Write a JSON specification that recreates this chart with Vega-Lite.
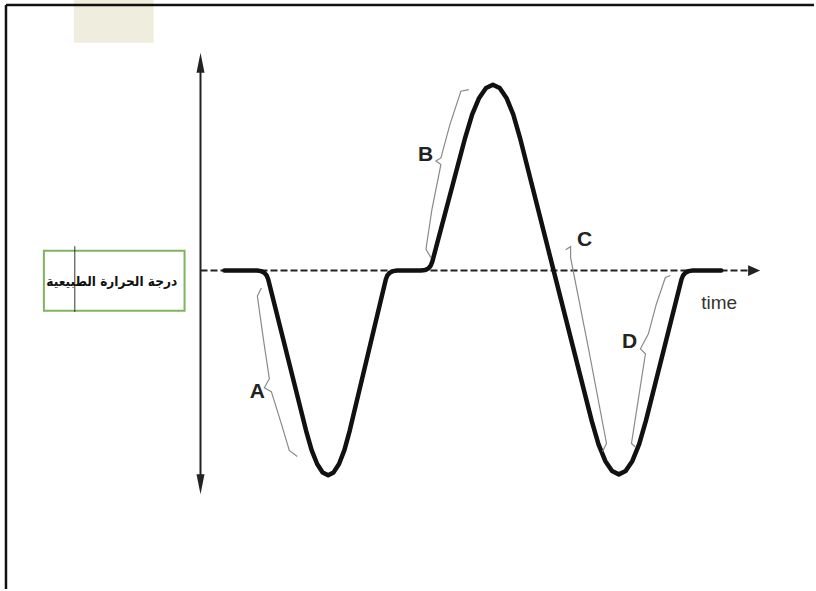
{
  "$schema": "https://vega.github.io/schema/vega-lite/v6.json",
  "width": 816,
  "height": 591,
  "autosize": {"type": "fit", "contains": "padding"},
  "padding": 0,
  "background": "white",
  "config": {"view": {"stroke": null}},
  "datasets": {
    "patch": [{"t0": -12.7, "t1": -4.7, "v0": 27.15, "v1": 22.85}],
    "frame": [
      {"t": -19.5, "t2": 61.5, "v": 26.65, "v2": 26.65},
      {"t": -19.5, "t2": -19.5, "v": 26.65, "v2": -31.95}
    ],
    "box": [{"t0": -15.7, "t1": -1.6, "v0": 1.98, "v1": -4.02}],
    "boxtick": [{"t": -12.6, "v": 2.45, "v2": -4.15}],
    "boxlabel": [{"t": -8.9, "v": -1.1, "label": "درجة الحرارة الطبيعية"}],
    "yaxis": [{"t": 0, "v": 20.85, "v2": -21.45}],
    "baseline": [{"t": 0, "t2": 55.1, "v": 0}],
    "arrowUp": [{"t": 0, "v": 20.85}],
    "arrowDown": [{"t": 0, "v": -21.45}],
    "arrowRight": [{"t": 55.5, "v": 0}],
    "curve": [
      {"i": 1, "t": 2.4, "v": 0}, {"i": 2, "t": 5.665, "v": 0}, {"i": 3, "t": 6.072, "v": -0.055},
      {"i": 4, "t": 6.395, "v": -0.218}, {"i": 5, "t": 6.631, "v": -0.491}, {"i": 6, "t": 6.783, "v": -0.873},
      {"i": 7, "t": 10.58, "v": -16.05}, {"i": 8, "t": 11.138, "v": -18.01}, {"i": 9, "t": 11.694, "v": -19.41},
      {"i": 10, "t": 12.245, "v": -20.25}, {"i": 11, "t": 12.795, "v": -20.53}, {"i": 12, "t": 13.34, "v": -20.25},
      {"i": 13, "t": 13.884, "v": -19.41}, {"i": 14, "t": 14.423, "v": -18.01}, {"i": 15, "t": 14.96, "v": -16.05},
      {"i": 16, "t": 18.581, "v": -0.875}, {"i": 17, "t": 18.729, "v": -0.492}, {"i": 18, "t": 18.963, "v": -0.219},
      {"i": 19, "t": 19.284, "v": -0.055}, {"i": 20, "t": 19.69, "v": 0}, {"i": 21, "t": 22.1, "v": 0},
      {"i": 22, "t": 22.509, "v": 0.054}, {"i": 23, "t": 22.833, "v": 0.217}, {"i": 24, "t": 23.074, "v": 0.489},
      {"i": 25, "t": 23.23, "v": 0.87}, {"i": 26, "t": 26.536, "v": 13.35}, {"i": 27, "t": 27.235, "v": 15.67},
      {"i": 28, "t": 27.931, "v": 17.325}, {"i": 29, "t": 28.621, "v": 18.319}, {"i": 30, "t": 29.309, "v": 18.65},
      {"i": 31, "t": 29.992, "v": 18.319}, {"i": 32, "t": 30.673, "v": 17.325}, {"i": 33, "t": 31.349, "v": 15.67},
      {"i": 34, "t": 32.02, "v": 13.35}, {"i": 35, "t": 39.21, "v": -15.06}, {"i": 36, "t": 39.892, "v": -17.419},
      {"i": 37, "t": 40.574, "v": -19.102}, {"i": 38, "t": 41.255, "v": -20.113}, {"i": 39, "t": 41.936, "v": -20.45},
      {"i": 40, "t": 42.616, "v": -20.113}, {"i": 41, "t": 43.295, "v": -19.102}, {"i": 42, "t": 43.974, "v": -17.419},
      {"i": 43, "t": 44.652, "v": -15.06}, {"i": 44, "t": 48.22, "v": -0.873}, {"i": 45, "t": 48.373, "v": -0.491},
      {"i": 46, "t": 48.61, "v": -0.218}, {"i": 47, "t": 48.933, "v": -0.055}, {"i": 48, "t": 49.34, "v": 0},
      {"i": 49, "t": 52.2, "v": 0}
    ],
    "braces": [
      {"brace": "A", "i": 1, "t": 6.1, "v": -1.75}, {"brace": "A", "i": 2, "t": 5.7, "v": -2.55},
      {"brace": "A", "i": 3, "t": 6.3, "v": -6.85}, {"brace": "A", "i": 4, "t": 6.9, "v": -10.85},
      {"brace": "A", "i": 5, "t": 6.4, "v": -11.75}, {"brace": "A", "i": 6, "t": 7.1, "v": -12.15},
      {"brace": "A", "i": 7, "t": 8.1, "v": -15.35}, {"brace": "A", "i": 8, "t": 8.9, "v": -18.05},
      {"brace": "A", "i": 9, "t": 9.7, "v": -18.65},
      {"brace": "B", "i": 1, "t": 26.9, "v": 18.15}, {"brace": "B", "i": 2, "t": 26.1, "v": 18.0},
      {"brace": "B", "i": 3, "t": 25.0, "v": 14.65}, {"brace": "B", "i": 4, "t": 24.1, "v": 11.3},
      {"brace": "B", "i": 5, "t": 23.6, "v": 11.0}, {"brace": "B", "i": 6, "t": 24.1, "v": 10.65},
      {"brace": "B", "i": 7, "t": 23.2, "v": 6.15}, {"brace": "B", "i": 8, "t": 22.6, "v": 2.15},
      {"brace": "B", "i": 9, "t": 23.1, "v": 1.3},
      {"brace": "C", "i": 1, "t": 36.6, "v": 2.1}, {"brace": "C", "i": 2, "t": 37.1, "v": 2.4},
      {"brace": "C", "i": 3, "t": 37.1, "v": 1.3}, {"brace": "C", "i": 4, "t": 38.9, "v": -7.85},
      {"brace": "C", "i": 5, "t": 40.7, "v": -17.35}, {"brace": "C", "i": 6, "t": 40.3, "v": -18.15},
      {"brace": "D", "i": 1, "t": 47.1, "v": -0.5}, {"brace": "D", "i": 2, "t": 46.6, "v": -0.7},
      {"brace": "D", "i": 3, "t": 45.7, "v": -3.35}, {"brace": "D", "i": 4, "t": 44.9, "v": -6.35},
      {"brace": "D", "i": 5, "t": 44.1, "v": -7.85}, {"brace": "D", "i": 6, "t": 44.6, "v": -8.35},
      {"brace": "D", "i": 7, "t": 43.9, "v": -12.85}, {"brace": "D", "i": 8, "t": 43.2, "v": -17.35},
      {"brace": "D", "i": 9, "t": 43.6, "v": -17.7}
    ],
    "letters": [
      {"t": 5.7, "v": -12.15, "label": "A"},
      {"t": 22.55, "v": 11.55, "label": "B"},
      {"t": 38.5, "v": 3.05, "label": "C"},
      {"t": 43.0, "v": -7.15, "label": "D"}
    ],
    "timelabel": [{"t": 52.0, "v": -3.25, "label": "time"}]
  },
  "encoding": {
    "x": {"field": "t", "type": "quantitative", "axis": null, "scale": {"domain": [-20.1, 61.5], "nice": false, "zero": false}},
    "y": {"field": "v", "type": "quantitative", "axis": null, "scale": {"domain": [-31.95, 27.15], "nice": false, "zero": false}}
  },
  "layer": [
    {
      "data": {"name": "patch"},
      "mark": {"type": "rect", "fill": "#eeedde"},
      "encoding": {
        "x": {"field": "t0", "type": "quantitative"},
        "x2": {"field": "t1"},
        "y": {"field": "v0", "type": "quantitative"},
        "y2": {"field": "v1"}
      }
    },
    {
      "data": {"name": "frame"},
      "mark": {"type": "rule", "stroke": "#111111", "strokeWidth": 2.5},
      "encoding": {
        "x2": {"field": "t2"},
        "y2": {"field": "v2"}
      }
    },
    {
      "data": {"name": "box"},
      "mark": {"type": "rect", "fillOpacity": 0, "stroke": "#7fb45f", "strokeWidth": 2},
      "encoding": {
        "x": {"field": "t0", "type": "quantitative"},
        "x2": {"field": "t1"},
        "y": {"field": "v0", "type": "quantitative"},
        "y2": {"field": "v1"}
      }
    },
    {
      "data": {"name": "boxtick"},
      "mark": {"type": "rule", "stroke": "#333333", "strokeWidth": 1},
      "encoding": {"y2": {"field": "v2"}}
    },
    {
      "data": {"name": "boxlabel"},
      "mark": {"type": "text", "font": "DejaVu Sans Condensed, DejaVu Sans", "fontSize": 13.5, "fontWeight": "bold", "color": "#111111", "align": "center", "baseline": "middle"},
      "encoding": {"text": {"field": "label"}}
    },
    {
      "data": {"name": "yaxis"},
      "mark": {"type": "rule", "stroke": "#222222", "strokeWidth": 2},
      "encoding": {"y2": {"field": "v2"}}
    },
    {
      "data": {"name": "baseline"},
      "mark": {"type": "rule", "stroke": "#222222", "strokeWidth": 2, "strokeDash": [7, 3]},
      "encoding": {"x2": {"field": "t2"}}
    },
    {
      "data": {"name": "arrowUp"},
      "mark": {"type": "point", "shape": "M0,-1L0.4,1L-0.4,1Z", "size": 400, "filled": true, "color": "#222222", "opacity": 1}
    },
    {
      "data": {"name": "arrowDown"},
      "mark": {"type": "point", "shape": "M0,1L0.4,-1L-0.4,-1Z", "size": 400, "filled": true, "color": "#222222", "opacity": 1}
    },
    {
      "data": {"name": "arrowRight"},
      "mark": {"type": "point", "shape": "M1,0L-1,0.9L-1,-0.9Z", "size": 144, "filled": true, "color": "#222222", "opacity": 1}
    },
    {
      "data": {"name": "curve"},
      "mark": {"type": "line", "stroke": "#111111", "strokeWidth": 4.5, "interpolate": "linear", "strokeCap": "round", "strokeJoin": "round"},
      "encoding": {"order": {"field": "i", "type": "quantitative"}}
    },
    {
      "data": {"name": "braces"},
      "mark": {"type": "line", "stroke": "#8a8a8a", "strokeWidth": 1.2, "interpolate": "linear"},
      "encoding": {
        "detail": {"field": "brace", "type": "nominal"},
        "order": {"field": "i", "type": "quantitative"}
      }
    },
    {
      "data": {"name": "letters"},
      "mark": {"type": "text", "font": "Liberation Sans", "fontSize": 21, "fontWeight": "bold", "color": "#222222", "align": "center", "baseline": "middle"},
      "encoding": {"text": {"field": "label"}}
    },
    {
      "data": {"name": "timelabel"},
      "mark": {"type": "text", "font": "Liberation Sans", "fontSize": 19, "color": "#333333", "align": "center", "baseline": "middle"},
      "encoding": {"text": {"field": "label"}}
    }
  ]
}
